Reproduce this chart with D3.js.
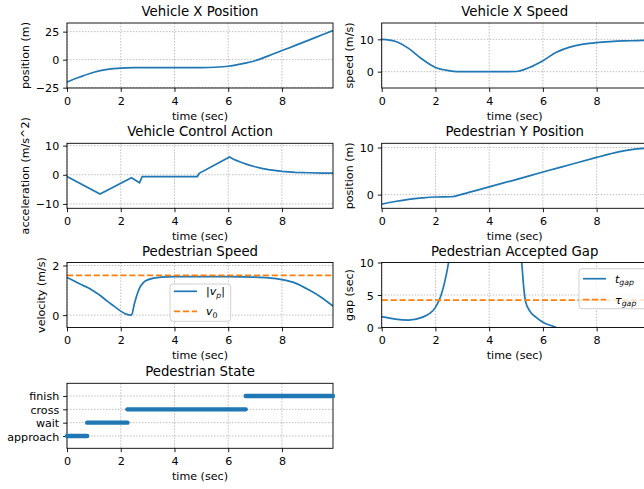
<!DOCTYPE html>
<html>
<head>
<meta charset="utf-8">
<script src="https://cdn.jsdelivr.net/npm/d3@7"></script>
<style>
  body { margin: 0; background: #fff; }
  text { font-family: "DejaVu Sans", sans-serif; fill: #000; }
</style>
</head>
<body>
<svg id="chart"></svg>
<script>
// ---- data ----
const xTicks = [0, 2, 4, 6, 8];

const posT = [0, 0.5, 1, 1.5, 2, 2.5, 3, 4, 5, 5.5, 6, 6.5, 7, 7.5, 8, 8.5, 9, 9.5, 9.9];
const posX = [-20, -15.3, -11.2, -8.7, -7.5, -7.15, -7.1, -7.1, -7.1, -6.8, -5.9, -3.8, -1.0, 3.4, 8.1, 12.7, 17.4, 22.2, 26.0];

const spdT = [0, 0.5, 1, 1.5, 2, 2.5, 2.8, 3, 4, 5, 5.5, 6, 6.5, 7, 7.5, 8, 8.5, 9, 9.5, 9.9];
const spdX = [10, 9.4, 7.2, 3.9, 1.3, 0.3, 0, 0, 0, 0.05, 1.3, 3.4, 6.0, 7.6, 8.5, 9.0, 9.3, 9.5, 9.6, 9.7];

const accT = [0, 1.23, 2.4, 2.7, 2.8, 4.85, 4.92, 6.05, 6.25, 6.5, 6.75, 7, 7.25, 7.5, 8, 8.5, 9, 9.5, 9.9];
const accU = [-0.6, -6.6, -1.0, -2.7, -0.6, -0.6, 0.5, 6.1, 5.1, 4.2, 3.4, 2.75, 2.2, 1.75, 1.15, 0.85, 0.7, 0.6, 0.55];

const pedYT = [0, 0.5, 1, 1.5, 2, 2.6, 3, 4, 5, 6, 7, 8, 8.5, 9, 9.5, 9.9];
const pedY = [-2.0, -1.45, -1.0, -0.7, -0.5, -0.45, 0.1, 1.65, 3.2, 4.8, 6.35, 7.9, 8.65, 9.3, 9.7, 9.9];

const vpT = [0, 0.25, 0.5, 0.75, 1, 1.25, 1.5, 1.75, 2, 2.2, 2.4, 2.5, 2.6, 2.7, 2.85, 3, 3.5, 4, 5, 6, 7, 7.5, 8, 8.5, 9, 9.5, 9.9];
const vp = [1.52, 1.38, 1.24, 1.12, 0.96, 0.78, 0.56, 0.36, 0.16, 0.04, 0.0, 0.42, 0.8, 1.09, 1.32, 1.42, 1.53, 1.55, 1.55, 1.55, 1.53, 1.5, 1.43, 1.29, 1.02, 0.69, 0.36];
const v0 = 1.6;

const gapT = [0, 0.5, 1, 1.5, 1.8, 2, 2.2, 2.35, 2.45, 2.55, 2.65, 5.1, 5.2, 5.3, 5.35, 5.5, 5.75, 6, 6.3, 6.5];
const gapV = [1.67, 1.3, 1.15, 1.56, 2.2, 3.1, 4.85, 7.1, 9.1, 11.5, 14, 14, 10.5, 5.6, 4.1, 2.6, 1.56, 0.8, 0.3, 0.0];
const tauGap = 4.2;

const stateNames = ["approach", "wait", "cross", "finish"];
const stateStart = [0, 0.75, 2.25, 6.65];
const stateEnd = [0.75, 2.25, 6.65, 9.9];

// ---- layout ----
const width = 644, height = 489;
const W = 266, H = 65;
const colLeft = [67, 381.7];
const rowTop = [23, 143.3, 262.5, 383.3];
const blue = "#1f77b4", orange = "#ff7f0e";
const fs = 11.1, titleFs = 13.3;

const svg = d3.select("#chart").attr("width", width).attr("height", height);
svg.append("rect").attr("width", width).attr("height", height).attr("fill", "#fff");
const defs = svg.append("defs");

function panel(o) {
  const left = colLeft[o.col], top = rowTop[o.row];
  const x = d3.scaleLinear().domain([0, 9.9]).range([left, left + W]);
  const y = d3.scaleLinear().domain(o.yDomain).range([top + H, top]);
  const g = svg.append("g");

  defs.append("clipPath").attr("id", "clip" + o.id)
    .append("rect").attr("x", left).attr("y", top).attr("width", W).attr("height", H);

  // grid
  const grid = g.append("g").attr("stroke", "#b0b0b0").attr("stroke-width", 0.8)
    .attr("stroke-dasharray", "1.5,1.5");
  grid.selectAll(".gx").data(xTicks).join("line")
    .attr("x1", d => x(d)).attr("x2", d => x(d)).attr("y1", top).attr("y2", top + H);
  grid.selectAll(".gy").data(o.yTicks).join("line")
    .attr("x1", left).attr("x2", left + W).attr("y1", d => y(d)).attr("y2", d => y(d));

  // axes
  const gx = g.append("g").attr("transform", `translate(0,${top + H})`)
    .call(d3.axisBottom(x).tickValues(xTicks).tickSize(3.9).tickPadding(5).tickFormat(d3.format("d")));
  const gy = g.append("g").attr("transform", `translate(${left},0)`)
    .call(d3.axisLeft(y).tickValues(o.yTicks).tickSize(3.9).tickPadding(3.9)
      .tickFormat(o.yFormat || d3.format("d")));
  [gx, gy].forEach(a => {
    a.attr("font-size", fs).attr("font-family", null);
    a.select(".domain").remove();
    a.selectAll(".tick line").attr("stroke", "#000").attr("stroke-width", 0.9);
  });
  gy.selectAll(".tick text").attr("dy", "0.36em");

  const plot = g.append("g").attr("clip-path", `url(#clip${o.id})`);

  // spines
  g.append("rect").attr("x", left).attr("y", top).attr("width", W).attr("height", H)
    .attr("fill", "none").attr("stroke", "#000").attr("stroke-width", 0.9);

  // title and labels
  g.append("text").attr("x", left + W / 2).attr("y", top - 7).attr("text-anchor", "middle")
    .attr("font-size", titleFs).text(o.title);
  g.append("text").attr("x", left + W / 2).attr("y", top + H + 31.5).attr("text-anchor", "middle")
    .attr("font-size", fs).text("time (sec)");
  if (o.ylabel) {
    let maxW = 0;
    gy.selectAll(".tick text").each(function () { maxW = Math.max(maxW, this.getBBox().width); });
    const lx = left - 7.8 - maxW - 4.5 - 2.7;
    g.append("text").attr("transform", `translate(${lx},${top + H / 2}) rotate(-90)`)
      .attr("text-anchor", "middle").attr("font-size", fs).text(o.ylabel);
  }
  return { x, y, g, plot };
}

function drawLine(p, ts, vs, color, curve, dash) {
  const idx = d3.range(ts.length);
  p.plot.append("path").datum(idx)
    .attr("d", d3.line().x(i => p.x(ts[i])).y(i => p.y(vs[i])).curve(curve || d3.curveMonotoneX))
    .attr("fill", "none").attr("stroke", color).attr("stroke-width", 1.7)
    .attr("stroke-dasharray", dash || null);
}

function drawHLine(p, v, color) {
  p.plot.append("line")
    .attr("x1", p.x(0)).attr("x2", p.x(9.9)).attr("y1", p.y(v)).attr("y2", p.y(v))
    .attr("stroke", color).attr("stroke-width", 1.7).attr("stroke-dasharray", "6.2,2.7");
}

// math-ish label: base italic letter with subscript, optional bars
function mathLabel(t, base, sub, subItalic, bars) {
  if (bars) t.append("tspan").text("|");
  t.append("tspan").attr("font-style", "italic").text(base);
  t.append("tspan").attr("font-size", fs * 0.7).attr("font-style", subItalic ? "italic" : null)
    .attr("dy", 2.6).text(sub);
  if (bars) t.append("tspan").attr("dy", -2.6).text("|");
}

function legend(x0, y0, w, h, items) {
  const lg = svg.append("g");
  lg.append("rect").attr("x", x0).attr("y", y0).attr("width", w).attr("height", h).attr("rx", 3)
    .attr("fill", "#fff").attr("fill-opacity", 0.8).attr("stroke", "#cccccc").attr("stroke-width", 0.9);
  items.forEach(it => {
    lg.append("line").attr("x1", x0 + 4).attr("x2", x0 + 27).attr("y1", it.y).attr("y2", it.y)
      .attr("stroke", it.color).attr("stroke-width", 1.7).attr("stroke-dasharray", it.dash || null);
    const t = lg.append("text").attr("x", x0 + 36).attr("y", it.y + 4).attr("font-size", fs);
    mathLabel(t, it.base, it.sub, it.subItalic, it.bars);
  });
}

// 1. vehicle x position
const p1 = panel({ id: 1, col: 0, row: 0, yDomain: [-25.3, 32.7], yTicks: [-25, 0, 25],
  title: "Vehicle X Position", ylabel: "position (m)" });
drawLine(p1, posT, posX, blue);

// 2. vehicle x speed
const p2 = panel({ id: 2, col: 1, row: 0, yDomain: [-5.05, 15.05], yTicks: [0, 10],
  title: "Vehicle X Speed", ylabel: "speed (m/s)" });
drawLine(p2, spdT, spdX, blue);

// 3. control action
const p3 = panel({ id: 3, col: 0, row: 1, yDomain: [-11.5, 10.8], yTicks: [-10, 0, 10],
  title: "Vehicle Control Action", ylabel: "acceleration (m/s^2)" });
drawLine(p3, accT, accU, blue, d3.curveLinear);

// 4. pedestrian y position
const p4 = panel({ id: 4, col: 1, row: 1, yDomain: [-2.9, 10.9], yTicks: [0, 10],
  title: "Pedestrian Y Position", ylabel: "position (m)" });
drawLine(p4, pedYT, pedY, blue);

// 5. pedestrian speed
const p5 = panel({ id: 5, col: 0, row: 2, yDomain: [-0.5, 2.12], yTicks: [0, 2],
  title: "Pedestrian Speed", ylabel: "velocity (m/s)" });
drawLine(p5, vpT, vp, blue);
drawHLine(p5, v0, orange);
legend(170, 284, 60.7, 37.3, [
  { y: 291.3, color: blue, base: "v", sub: "p", subItalic: true, bars: true },
  { y: 311.3, color: orange, dash: "6.2,2.7", base: "v", sub: "0", subItalic: false }
]);

// 6. accepted gap
const p6 = panel({ id: 6, col: 1, row: 2, yDomain: [0, 10], yTicks: [0, 5, 10],
  title: "Pedestrian Accepted Gap", ylabel: "gap (sec)" });
drawLine(p6, gapT, gapV, blue);
drawHLine(p6, tauGap, orange);
legend(579, 268.7, 72, 40, [
  { y: 278.7, color: blue, base: "t", sub: "gap", subItalic: true },
  { y: 299.7, color: orange, dash: "6.2,2.7", base: "τ", sub: "gap", subItalic: true }
]);

// 7. pedestrian state
const p7 = panel({ id: 7, col: 0, row: 3, yDomain: [-0.92, 3.95], yTicks: [0, 1, 2, 3],
  yFormat: i => stateNames[i], title: "Pedestrian State", ylabel: null });
p7.g.append("g").selectAll("line").data(stateNames).join("line")
  .attr("x1", (d, i) => p7.x(stateStart[i])).attr("x2", (d, i) => p7.x(stateEnd[i]))
  .attr("y1", (d, i) => p7.y(i)).attr("y2", (d, i) => p7.y(i))
  .attr("stroke", blue).attr("stroke-width", 4.4).attr("stroke-linecap", "round");
</script>
</body>
</html>
